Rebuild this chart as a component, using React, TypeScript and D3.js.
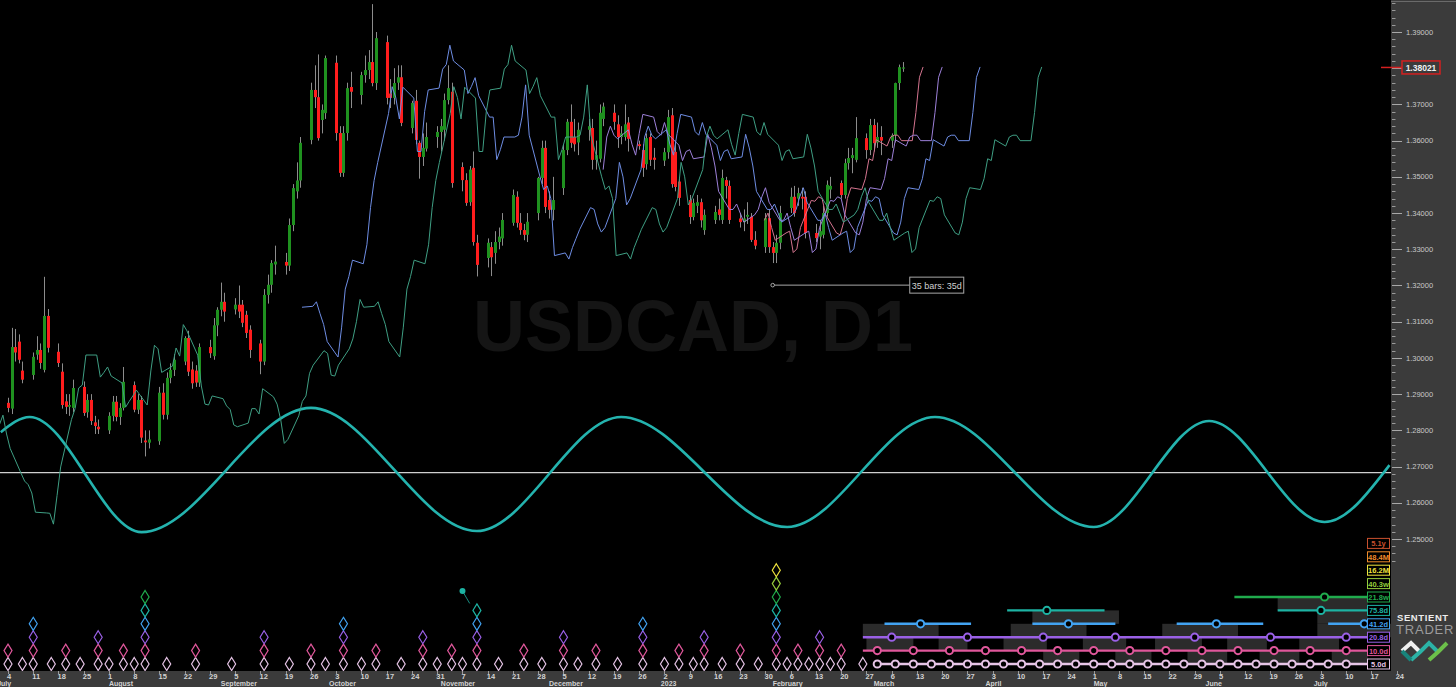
import React from "react";
import * as d3 from "d3";

const WIDTH = 1456;
const HEIGHT = 687;
const AXIS_X = 1391;
const AXIS_Y = 671;

const parse = d3.utcParse("%Y-%m-%d");
const DAY = 864e5;

// date, open, high, low, close
const candles: [string, number, number, number, number][] = [
  ["2022-07-04", 1.2876, 1.289, 1.285, 1.2862],
  ["2022-07-05", 1.286, 1.3083, 1.2845, 1.303],
  ["2022-07-06", 1.303, 1.308, 1.299, 1.3015],
  ["2022-07-07", 1.3045, 1.3065, 1.2985, 1.2995],
  ["2022-07-08", 1.2965, 1.299, 1.293, 1.294],
  ["2022-07-11", 1.2953, 1.3015, 1.294, 1.3003],
  ["2022-07-12", 1.3009, 1.306, 1.2995, 1.3022],
  ["2022-07-13", 1.3022, 1.304, 1.297, 1.2986],
  ["2022-07-14", 1.2967, 1.3224, 1.296, 1.3116],
  ["2022-07-15", 1.3116, 1.3135, 1.3015, 1.3028],
  ["2022-07-18", 1.3017, 1.304, 1.2975, 1.2986],
  ["2022-07-19", 1.2962, 1.2985, 1.286, 1.287],
  ["2022-07-20", 1.288, 1.29, 1.2845, 1.2865],
  ["2022-07-21", 1.2865, 1.29, 1.284, 1.287],
  ["2022-07-22", 1.2862, 1.294, 1.285, 1.2917],
  ["2022-07-25", 1.292, 1.2935, 1.284, 1.2848],
  ["2022-07-26", 1.285, 1.29, 1.2835, 1.2884],
  ["2022-07-27", 1.2884, 1.29, 1.2815, 1.2826],
  ["2022-07-28", 1.2822, 1.284, 1.279, 1.2812],
  ["2022-07-29", 1.281, 1.283, 1.279, 1.2803],
  ["2022-08-01", 1.28, 1.285, 1.279, 1.284],
  ["2022-08-02", 1.284, 1.2895, 1.2825, 1.2879],
  ["2022-08-03", 1.2879, 1.2895, 1.2825, 1.2837],
  ["2022-08-04", 1.2837, 1.2875, 1.2815, 1.2862],
  ["2022-08-05", 1.2862, 1.2975, 1.2855, 1.2934],
  ["2022-08-08", 1.2925, 1.2935, 1.285, 1.2857],
  ["2022-08-09", 1.2857, 1.29, 1.2845, 1.2884],
  ["2022-08-10", 1.2884, 1.2895, 1.2765, 1.278],
  ["2022-08-11", 1.2772, 1.28, 1.2728, 1.2767],
  ["2022-08-12", 1.2766, 1.28, 1.275, 1.2775],
  ["2022-08-15", 1.277, 1.292, 1.276, 1.2904],
  ["2022-08-16", 1.2904, 1.293, 1.283, 1.2843],
  ["2022-08-17", 1.2843, 1.296, 1.283, 1.2945],
  ["2022-08-18", 1.2945, 1.2985, 1.293, 1.2967],
  ["2022-08-19", 1.2967, 1.301, 1.295, 1.2995],
  ["2022-08-22", 1.299, 1.306, 1.298, 1.3055],
  ["2022-08-23", 1.3055, 1.3075, 1.295, 1.2962],
  ["2022-08-24", 1.2968, 1.299, 1.2915, 1.293],
  ["2022-08-25", 1.2965, 1.298, 1.292, 1.2932],
  ["2022-08-26", 1.2932, 1.304, 1.292, 1.303],
  ["2022-08-29", 1.303, 1.305, 1.3, 1.3013],
  ["2022-08-30", 1.3005, 1.311, 1.2995, 1.309],
  ["2022-08-31", 1.309, 1.314, 1.306, 1.3133],
  ["2022-09-01", 1.3133, 1.3208, 1.3115, 1.3155],
  ["2022-09-02", 1.3155, 1.318, 1.31, 1.3128],
  ["2022-09-05", 1.3134, 1.3165, 1.312, 1.3147],
  ["2022-09-06", 1.3147, 1.32, 1.311, 1.3128],
  ["2022-09-07", 1.3147, 1.316, 1.3085, 1.3097],
  ["2022-09-08", 1.3119, 1.313, 1.3055, 1.3069],
  ["2022-09-09", 1.3078, 1.309, 1.3, 1.3022],
  ["2022-09-12", 1.304, 1.305, 1.2955, 1.299],
  ["2022-09-13", 1.299, 1.319, 1.298, 1.3174],
  ["2022-09-14", 1.3174, 1.323, 1.315, 1.3202],
  ["2022-09-15", 1.3202, 1.327, 1.318, 1.3262],
  ["2022-09-16", 1.3258, 1.331, 1.323, 1.3266],
  ["2022-09-19", 1.3265, 1.329, 1.323, 1.3255],
  ["2022-09-20", 1.3255, 1.3385, 1.324, 1.3367],
  ["2022-09-21", 1.3367, 1.348, 1.335, 1.3469],
  ["2022-09-22", 1.346, 1.354, 1.344, 1.349],
  ["2022-09-23", 1.349, 1.361, 1.347, 1.3594],
  ["2022-09-26", 1.3602, 1.376, 1.359, 1.374],
  ["2022-09-27", 1.374, 1.3808, 1.369, 1.372],
  ["2022-09-28", 1.372, 1.3838, 1.36, 1.3607],
  ["2022-09-29", 1.3657, 1.37, 1.362, 1.3685],
  ["2022-09-30", 1.3676, 1.3835, 1.366, 1.3828],
  ["2022-10-03", 1.3815, 1.3835, 1.36, 1.3621],
  ["2022-10-04", 1.3621, 1.364, 1.35, 1.3511],
  ["2022-10-05", 1.3511, 1.364, 1.35, 1.3621],
  ["2022-10-06", 1.3621, 1.376, 1.36, 1.3745],
  ["2022-10-07", 1.3748, 1.379, 1.369, 1.3735],
  ["2022-10-10", 1.3726, 1.379, 1.37, 1.3781],
  ["2022-10-11", 1.3781, 1.3835, 1.376, 1.3795],
  ["2022-10-12", 1.3795, 1.385, 1.377, 1.3817],
  ["2022-10-13", 1.3817, 1.3977, 1.375, 1.3759],
  ["2022-10-14", 1.3759, 1.39, 1.374, 1.3883],
  ["2022-10-17", 1.3872, 1.389, 1.37, 1.3718],
  ["2022-10-18", 1.373, 1.377, 1.369, 1.3718],
  ["2022-10-19", 1.3718, 1.38, 1.37, 1.3759],
  ["2022-10-20", 1.376, 1.3808, 1.374, 1.3775],
  ["2022-10-21", 1.3775, 1.3808, 1.364, 1.3649],
  ["2022-10-24", 1.3635, 1.371, 1.362, 1.3704],
  ["2022-10-25", 1.371, 1.374, 1.359, 1.3602],
  ["2022-10-26", 1.3594, 1.36, 1.3495, 1.3555],
  ["2022-10-27", 1.3555, 1.362, 1.353, 1.358],
  ["2022-10-28", 1.3578, 1.365, 1.357, 1.361],
  ["2022-10-31", 1.361, 1.364, 1.358, 1.3624],
  ["2022-11-01", 1.3624, 1.366, 1.357, 1.364],
  ["2022-11-02", 1.363, 1.373, 1.36, 1.3712],
  ["2022-11-03", 1.3712, 1.3808, 1.37, 1.3745],
  ["2022-11-04", 1.3735, 1.376, 1.347, 1.3483],
  ["2022-11-07", 1.3527, 1.354, 1.346, 1.3491],
  ["2022-11-08", 1.3491, 1.351, 1.342, 1.3428],
  ["2022-11-09", 1.343, 1.353, 1.342, 1.352],
  ["2022-11-10", 1.3525, 1.357, 1.331, 1.332],
  ["2022-11-11", 1.3318, 1.334, 1.3225, 1.3257],
  ["2022-11-14", 1.3276, 1.333, 1.325, 1.3318],
  ["2022-11-15", 1.3306, 1.332, 1.3226, 1.3278],
  ["2022-11-16", 1.329, 1.335, 1.326, 1.332],
  ["2022-11-17", 1.332, 1.336, 1.33, 1.3335],
  ["2022-11-18", 1.333, 1.34, 1.331, 1.3381],
  ["2022-11-21", 1.3373, 1.3465, 1.3365, 1.345],
  ["2022-11-22", 1.3445, 1.346, 1.336, 1.3373],
  ["2022-11-23", 1.3373, 1.34, 1.334, 1.3353],
  ["2022-11-24", 1.3353, 1.337, 1.3325, 1.334],
  ["2022-11-25", 1.334, 1.34, 1.332, 1.3376],
  ["2022-11-28", 1.34, 1.35, 1.338, 1.3497],
  ["2022-11-29", 1.3497, 1.36, 1.348, 1.358],
  ["2022-11-30", 1.358, 1.36, 1.34, 1.3417],
  ["2022-12-01", 1.3436, 1.346, 1.3385, 1.3409],
  ["2022-12-02", 1.3409, 1.35, 1.338, 1.3436],
  ["2022-12-05", 1.3469, 1.359, 1.345, 1.3574],
  ["2022-12-06", 1.3574, 1.366, 1.356, 1.3652],
  ["2022-12-07", 1.3652, 1.37, 1.358, 1.3594],
  ["2022-12-08", 1.361, 1.366, 1.357, 1.359],
  ["2022-12-09", 1.3595, 1.365, 1.356, 1.363],
  ["2022-12-12", 1.363, 1.366, 1.36, 1.364],
  ["2022-12-13", 1.3635, 1.366, 1.352, 1.3547],
  ["2022-12-14", 1.3547, 1.36, 1.352, 1.356],
  ["2022-12-15", 1.355, 1.37, 1.354, 1.3677],
  ["2022-12-16", 1.366, 1.3705, 1.364, 1.3694],
  ["2022-12-19", 1.3677, 1.37, 1.363, 1.3652],
  ["2022-12-20", 1.3645, 1.367, 1.358, 1.361],
  ["2022-12-21", 1.361, 1.364, 1.359, 1.362],
  ["2022-12-22", 1.361, 1.37, 1.36, 1.3645],
  ["2022-12-23", 1.365, 1.3665, 1.357, 1.3605],
  ["2022-12-26", 1.359, 1.36, 1.3575, 1.3585],
  ["2022-12-27", 1.3574, 1.359, 1.35, 1.3525],
  ["2022-12-28", 1.3535, 1.362, 1.352, 1.3607],
  ["2022-12-29", 1.361, 1.362, 1.353, 1.3547],
  ["2022-12-30", 1.3553, 1.358, 1.352, 1.3547],
  ["2023-01-02", 1.3545, 1.358, 1.353, 1.3568],
  ["2023-01-03", 1.3568, 1.3685, 1.355, 1.3665],
  ["2023-01-04", 1.367, 1.369, 1.347, 1.348],
  ["2023-01-05", 1.3569, 1.36, 1.346, 1.3472],
  ["2023-01-06", 1.3487, 1.35, 1.342, 1.3442],
  ["2023-01-09", 1.3436, 1.345, 1.337, 1.3389],
  ["2023-01-10", 1.3389, 1.344, 1.338, 1.3428],
  ["2023-01-11", 1.342, 1.345, 1.34, 1.343],
  ["2023-01-12", 1.343, 1.344, 1.336, 1.338],
  ["2023-01-13", 1.3353, 1.341, 1.334, 1.3395],
  ["2023-01-16", 1.3381, 1.342, 1.337, 1.3403],
  ["2023-01-17", 1.341, 1.344, 1.338, 1.3395],
  ["2023-01-18", 1.3381, 1.352, 1.337, 1.3497],
  ["2023-01-19", 1.3491, 1.35, 1.344, 1.3475],
  ["2023-01-20", 1.3475, 1.349, 1.337, 1.3381],
  ["2023-01-23", 1.3385, 1.34, 1.336, 1.3375],
  ["2023-01-24", 1.3375, 1.341, 1.335, 1.3385],
  ["2023-01-25", 1.339, 1.343, 1.337, 1.3395],
  ["2023-01-26", 1.339, 1.34, 1.332, 1.3326],
  ["2023-01-27", 1.3326, 1.335, 1.33, 1.331],
  ["2023-01-30", 1.3306, 1.34, 1.329, 1.3386],
  ["2023-01-31", 1.3386, 1.341, 1.329, 1.3306],
  ["2023-02-01", 1.3306, 1.332, 1.3262, 1.329],
  ["2023-02-02", 1.329, 1.334, 1.3262, 1.3318],
  ["2023-02-03", 1.3318, 1.342, 1.33, 1.34],
  ["2023-02-06", 1.3414, 1.347, 1.34, 1.3445],
  ["2023-02-07", 1.3445, 1.3475, 1.339, 1.34],
  ["2023-02-08", 1.344, 1.347, 1.342, 1.3455],
  ["2023-02-09", 1.3445, 1.347, 1.341, 1.344],
  ["2023-02-10", 1.3445, 1.346, 1.333, 1.3345],
  ["2023-02-13", 1.3345, 1.337, 1.332, 1.3331],
  ["2023-02-14", 1.3335, 1.338, 1.33, 1.335],
  ["2023-02-15", 1.334, 1.342, 1.333, 1.34],
  ["2023-02-16", 1.34, 1.349, 1.339, 1.3478],
  ["2023-02-17", 1.3465, 1.35, 1.344, 1.3475],
  ["2023-02-20", 1.3483, 1.349, 1.344, 1.345],
  ["2023-02-21", 1.345, 1.355, 1.344, 1.3538],
  ["2023-02-22", 1.3538, 1.358, 1.352, 1.3552],
  ["2023-02-23", 1.3552, 1.358, 1.351, 1.356],
  ["2023-02-24", 1.3547, 1.3665, 1.354, 1.3607],
  ["2023-02-27", 1.3607, 1.362, 1.355, 1.3574],
  ["2023-02-28", 1.3574, 1.366, 1.356, 1.3643],
  ["2023-03-01", 1.3643, 1.366, 1.357, 1.3593],
  ["2023-03-02", 1.3595, 1.365, 1.358, 1.361],
  ["2023-03-03", 1.361, 1.364, 1.356, 1.36],
  ["2023-03-06", 1.36, 1.362, 1.358, 1.3615],
  ["2023-03-07", 1.3615, 1.376, 1.3595, 1.3759],
  ["2023-03-08", 1.3759, 1.381, 1.374, 1.3803],
  ["2023-03-09", 1.38, 1.3817, 1.379, 1.38021],
];

// median prices before the visible window (only seen through the 75.8d FLD)
const priorMedians: [string, number][] = [
  ["2022-05-23", 1.283], ["2022-05-24", 1.2815], ["2022-05-25", 1.2842], ["2022-05-26", 1.279],
  ["2022-05-27", 1.275], ["2022-05-30", 1.2682], ["2022-05-31", 1.266], ["2022-06-01", 1.265],
  ["2022-06-02", 1.2627], ["2022-06-03", 1.2574], ["2022-06-06", 1.2572], ["2022-06-07", 1.2571],
  ["2022-06-08", 1.2541], ["2022-06-09", 1.262], ["2022-06-10", 1.2699], ["2022-06-13", 1.283],
  ["2022-06-14", 1.286], ["2022-06-15", 1.2917], ["2022-06-16", 1.2925], ["2022-06-17", 1.3008],
  ["2022-06-20", 1.3008], ["2022-06-21", 1.2947], ["2022-06-22", 1.296], ["2022-06-23", 1.2975],
  ["2022-06-24", 1.295], ["2022-06-27", 1.2931], ["2022-06-28", 1.2864], ["2022-06-29", 1.288],
  ["2022-06-30", 1.2895], ["2022-07-01", 1.2911],
];

const fldShiftDays = [5.7, 11.0, 21.5, 38.6];
const fldStart = ["2023-01-24", "2022-12-05", "2022-09-02", "2022-05-23"];
const fldColors = ["#d4748f", "#9d80d9", "#6e8de3", "#3f9f84"];

const priceTicks = [1.25, 1.26, 1.27, 1.28, 1.29, 1.3, 1.31, 1.32, 1.33, 1.34, 1.35, 1.36, 1.37, 1.38, 1.39];
const lastPrice = 1.38021;

// composite cycle wave: turning points
const waveDates = ["2022-07-02", "2022-07-10", "2022-08-10", "2022-09-26", "2022-11-11", "2022-12-21", "2023-02-05", "2023-03-18", "2023-05-01", "2023-06-02", "2023-07-04", "2023-07-22"];
const waveValues = [1.2795, 1.2837, 1.2519, 1.2862, 1.2522, 1.2837, 1.2533, 1.2837, 1.2533, 1.2826, 1.2547, 1.2704];
const waveBaseline = 1.26835;

const cycleNames = ["5.0d", "10.0d", "20.8d", "41.2d", "75.8d", "21.8w", "40.3w", "16.2M", "48.4M", "5.1y"];
const cycleColors = ["#e6c4e6", "#e0579b", "#9a60e6", "#42a3f2", "#1db3a3", "#20ab4d", "#95cd3b", "#efe33d", "#ee8a2a", "#c9502e"];

const diamondDates = ["2022-07-04", "2022-07-08", "2022-07-11", "2022-07-16", "2022-07-20", "2022-07-24", "2022-07-29", "2022-08-01", "2022-08-05", "2022-08-08", "2022-08-11", "2022-08-17", "2022-08-25", "2022-09-04", "2022-09-13", "2022-09-20", "2022-09-26", "2022-09-30", "2022-10-05", "2022-10-10", "2022-10-14", "2022-10-21", "2022-10-27", "2022-10-31", "2022-11-04", "2022-11-07", "2022-11-11", "2022-11-17", "2022-11-24", "2022-11-29", "2022-12-05", "2022-12-09", "2022-12-14", "2022-12-20", "2022-12-27", "2023-01-02", "2023-01-06", "2023-01-10", "2023-01-13", "2023-01-18", "2023-01-23", "2023-01-28", "2023-02-02", "2023-02-05", "2023-02-08", "2023-02-11", "2023-02-14", "2023-02-17", "2023-02-20", "2023-02-26"];
const diamondLevels = [1, 0, 3, 0, 1, 0, 2, 0, 1, 0, 5, 0, 1, 0, 2, 0, 1, 0, 3, 0, 1, 0, 2, 0, 1, 0, 4, 0, 1, 0, 2, 0, 1, 0, 3, 0, 1, 0, 2, 0, 1, 0, 7, 0, 1, 0, 2, 0, 1, 0];

// projected troughs (circles) per cycle row
const projCircles: string[][] = [
  ["2023-03-02", "2023-03-07", "2023-03-12", "2023-03-17", "2023-03-22", "2023-03-27", "2023-04-01", "2023-04-06", "2023-04-11", "2023-04-16", "2023-04-21", "2023-04-26", "2023-05-01", "2023-05-06", "2023-05-11", "2023-05-16", "2023-05-21", "2023-05-26", "2023-05-31", "2023-06-05", "2023-06-10", "2023-06-15", "2023-06-20", "2023-06-25", "2023-06-30", "2023-07-05", "2023-07-10"],
  ["2023-03-02", "2023-03-12", "2023-03-22", "2023-04-01", "2023-04-11", "2023-04-21", "2023-05-01", "2023-05-11", "2023-05-21", "2023-05-31", "2023-06-10", "2023-06-20", "2023-06-30", "2023-07-10"],
  ["2023-03-06", "2023-03-27", "2023-04-17", "2023-05-07", "2023-05-29", "2023-06-19", "2023-07-10"],
  ["2023-03-14", "2023-04-24", "2023-06-04", "2023-07-15"],
  ["2023-04-18", "2023-07-03"],
  ["2023-07-04"],
];
const projLines: [string, string][][] = [
  [["2023-03-01", "2023-07-16"]],
  [["2023-02-26", "2023-07-16"]],
  [["2023-02-26", "2023-07-16"]],
  [["2023-03-04", "2023-03-28"], ["2023-04-14", "2023-05-07"], ["2023-05-24", "2023-06-17"], ["2023-07-05", "2023-07-16"]],
  [["2023-04-07", "2023-05-04"], ["2023-06-21", "2023-07-16"]],
  [["2023-06-09", "2023-07-16"]],
];
// grey trough windows: [row, start, end]
const projBoxes: [number, string, string][] = [
  [3, "2023-02-26", "2023-03-19"], [3, "2023-04-08", "2023-04-29"], [3, "2023-05-20", "2023-06-10"], [3, "2023-07-02", "2023-07-24"],
  [4, "2023-04-14", "2023-05-08"], [4, "2023-07-02", "2023-07-16"], [5, "2023-06-21", "2023-07-16"],
  [2, "2023-02-27", "2023-03-12"], [2, "2023-03-19", "2023-03-27"], [2, "2023-04-06", "2023-04-18"],
  [2, "2023-04-28", "2023-05-10"], [2, "2023-05-18", "2023-05-31"], [2, "2023-06-07", "2023-06-18"], [2, "2023-06-27", "2023-07-08"],
  [1, "2023-04-17", "2023-04-27"], [1, "2023-05-07", "2023-05-17"], [1, "2023-05-27", "2023-06-07"],
  [1, "2023-06-16", "2023-06-27"], [1, "2023-07-06", "2023-07-16"],
];

const measure = { from: "2023-02-01", to: "2023-03-11", price: 1.3201, label: "35 bars: 35d" };

const xScale = d3.scaleUtc()
  .domain([parse("2022-07-04")!, parse("2023-07-24")!])
  .range([8, 8 + 385 * 3.607]);
const yScale = d3.scaleLinear().domain([1.25, 1.39]).range([539, 32]);
const X = (s: string) => xScale(parse(s)!);
const rowY = (i: number) => 664 - i * 13.4;

const FONT = "'Liberation Sans', Arial, sans-serif";

export default function App() {
  const allMed = [
    ...priorMedians.map(([d, v]) => ({ t: parse(d)!, v })),
    ...candles.map((c) => ({ t: parse(c[0])!, v: (c[2] + c[3]) / 2 })),
  ];
  const line = d3.line<[number, number]>();
  const fldPaths = fldShiftDays.map((s, k) => {
    const start = parse(fldStart[k])!;
    const pts = allMed
      .filter((p) => p.t >= start)
      .map((p) => [xScale(new Date(+p.t + s * DAY)), yScale(p.v)] as [number, number]);
    return line(pts) || "";
  });
  const wavePath =
    d3.line<[number, number]>().curve(d3.curveMonotoneX)(
      waveDates.map((d, i) => [X(d), yScale(waveValues[i])] as [number, number])
    ) || "";

  const mondays = d3.utcMonday.range(parse("2022-07-04")!, parse("2023-07-25")!);
  const months = d3.utcMonth.range(parse("2022-07-01")!, parse("2023-07-02")!);
  const monthFmt = (d: Date) => (d.getUTCMonth() === 0 ? d3.utcFormat("%Y")(d) : d3.utcFormat("%B")(d));

  const minorTicks = d3.range(1244, 1400, 2).map((v) => v / 1000);

  return (
    <svg width={WIDTH} height={HEIGHT} style={{ display: "block", position: "absolute", left: 0, top: 0, background: "#000" }}>
      <defs>
        <clipPath id="plot">
          <rect x={0} y={0} width={AXIS_X} height={AXIS_Y} />
        </clipPath>
      </defs>
      <rect x={0} y={0} width={WIDTH} height={HEIGHT} fill="#000" />
      <g clipPath="url(#plot)">
        {/* watermark */}
        <text x={693} y={351} textAnchor="middle" fontFamily={FONT} fontWeight="bold" fontSize={72} fill="#151515">
          USDCAD, D1
        </text>
        {/* baseline + wave */}
        <line x1={0} x2={AXIS_X} y1={yScale(waveBaseline)} y2={yScale(waveBaseline)} stroke="#cfcfcf" strokeWidth={1.3} />
        <path d={wavePath} fill="none" stroke="#24b3ae" strokeWidth={2.6} />
        {/* candles */}
        {candles.map(([d, o, h, l, c]) => {
          const cx = Math.round(X(d)) + 0.5;
          const up = c >= o;
          const top = yScale(Math.max(o, c));
          const bot = yScale(Math.min(o, c));
          return (
            <g key={d}>
              <line x1={cx} x2={cx} y1={yScale(h)} y2={yScale(l)} stroke="#8c8c8c" strokeWidth={1} />
              <rect x={cx - 1.5} y={top} width={3} height={Math.max(1.2, bot - top)} fill={up ? "#1f911f" : "#ff1d1d"} />
            </g>
          );
        })}
        {/* FLDs */}
        {fldPaths.map((p, k) => (
          <path key={k} d={p} fill="none" stroke={fldColors[k]} strokeWidth={1} />
        ))}
        {/* measurement */}
        <line x1={X(measure.from)} x2={X(measure.to)} y1={yScale(measure.price)} y2={yScale(measure.price)} stroke="#a8a8a8" strokeWidth={1} />
        <circle cx={X(measure.from)} cy={yScale(measure.price)} r={1.8} fill="#000" stroke="#a8a8a8" strokeWidth={1} />
        <rect x={X(measure.to)} y={yScale(measure.price) - 8} width={54} height={16} fill="#000" stroke="#a8a8a8" strokeWidth={1} />
        <text x={X(measure.to) + 27} y={yScale(measure.price) + 3.5} textAnchor="middle" fontFamily={FONT} fontSize={9} fill="#d0d0d0">
          {measure.label}
        </text>

        {/* projection boxes */}
        {projBoxes.map(([r, a, b], i) => (
          <rect key={i} x={X(a)} y={rowY(r)} width={X(b) - X(a)} height={13.4} fill="#2b2b2b" />
        ))}
        {/* projection lines and circles */}
        {projLines.map((segs, r) =>
          segs.map(([a, b], j) => (
            <line key={`${r}-${j}`} x1={X(a)} x2={X(b)} y1={rowY(r)} y2={rowY(r)} stroke={cycleColors[r]} strokeWidth={2.4} />
          ))
        )}
        {projCircles.map((cs, r) =>
          cs.map((d) => (
            <circle key={`${r}-${d}`} cx={X(d)} cy={rowY(r)} r={3.6} fill="#000" stroke={cycleColors[r]} strokeWidth={2} />
          ))
        )}

        {/* trough diamonds */}
        {diamondDates.map((d, i) =>
          d3.range(diamondLevels[i] + 1).map((lv) => {
            const cx = X(d);
            const cy = rowY(lv);
            return (
              <path
                key={`${d}-${lv}`}
                d={`M${cx},${cy - 6.5}L${cx + 4},${cy}L${cx},${cy + 6.5}L${cx - 4},${cy}Z`}
                fill="none"
                stroke={cycleColors[lv]}
                strokeWidth={1.2}
              />
            );
          })
        )}
        {/* expected 75.8d trough marker */}
        <line x1={X("2022-11-07")} y1={rowY(5) - 6} x2={X("2022-11-09")} y2={rowY(4) - 7} stroke="#1db3a3" strokeWidth={0.8} />
        <circle cx={X("2022-11-07")} cy={rowY(5) - 6} r={3} fill="#1db3a3" />
      </g>

      {/* cycle labels */}
      {cycleNames.map((n, i) => (
        <g key={n}>
          <rect x={1367.5} y={rowY(i) - 5} width={22} height={10} fill="#000" stroke={cycleColors[i]} strokeWidth={1} />
          <text x={1378.5} y={rowY(i) + 3} textAnchor="middle" fontFamily={FONT} fontWeight="bold" fontSize={7.5} fill={cycleColors[i]}>
            {n}
          </text>
        </g>
      ))}

      {/* right axis panel */}
      <rect x={AXIS_X} y={0} width={WIDTH - AXIS_X} height={HEIGHT} fill="#3b3b3b" />
      <line x1={AXIS_X} x2={WIDTH} y1={1.5} y2={1.5} stroke="#6a6a6a" />
      {minorTicks.map((v) => (
        <line key={v} x1={AXIS_X + 1} x2={AXIS_X + 4.5} y1={Math.round(yScale(v)) + 0.5} y2={Math.round(yScale(v)) + 0.5} stroke="#9a9a9a" />
      ))}
      {priceTicks.map((v) => (
        <g key={v}>
          <line x1={AXIS_X + 1} x2={AXIS_X + 11} y1={Math.round(yScale(v)) + 0.5} y2={Math.round(yScale(v)) + 0.5} stroke="#a8a8a8" />
          {Math.abs(yScale(v) - yScale(lastPrice)) > 8 && (
            <text x={1406} y={yScale(v) + 2.6} fontFamily={FONT} fontSize={7.5} fill="#c9c9c9">
              {v.toFixed(5)}
            </text>
          )}
        </g>
      ))}
      {/* last price */}
      <line x1={1381} x2={1402} y1={yScale(lastPrice)} y2={yScale(lastPrice)} stroke="#d42020" strokeWidth={1.5} />
      <rect x={1402} y={yScale(lastPrice) - 6.5} width={38} height={13} fill="#3b3b3b" stroke="#d42020" strokeWidth={1.5} />
      <text x={1421} y={yScale(lastPrice) + 3.3} textAnchor="middle" fontFamily={FONT} fontWeight="bold" fontSize={8.5} fill="#f2f2f2">
        {lastPrice.toFixed(5)}
      </text>

      {/* logo */}
      <text x={1397} y={621} fontFamily={FONT} fontWeight="bold" fontSize={9.5} letterSpacing={0.6} fill="#ececec">
        SENTIENT
      </text>
      <text x={1396} y={634} fontFamily={FONT} fontSize={13} letterSpacing={0.8} fill="#9c9c9c">
        TRADER
      </text>
      <polyline points="1402,651 1411,643 1420,652" fill="none" stroke="#f0f0f0" strokeWidth={4} />
      <polyline points="1411,660 1420,652 1429,643 1438,652" fill="none" stroke="#2bb3a6" strokeWidth={4} />
      <polyline points="1429,660 1438,652 1447,643" fill="none" stroke="#6cc04a" strokeWidth={4} />
      <polyline points="1402,651 1411,660" fill="none" stroke="#18857c" strokeWidth={4} />

      {/* bottom axis panel */}
      <rect x={0} y={AXIS_Y} width={WIDTH} height={HEIGHT - AXIS_Y} fill="#3b3b3b" />
      {mondays.map((d) => (
        <g key={+d}>
          <line x1={Math.round(xScale(d)) + 0.5} x2={Math.round(xScale(d)) + 0.5} y1={AXIS_Y} y2={AXIS_Y + 3} stroke="#9a9a9a" />
          <text x={xScale(d) - 1} y={679} fontFamily={FONT} fontWeight="bold" fontSize={7.5} fill="#d2d2d2">
            {d.getUTCDate()}
          </text>
        </g>
      ))}
      {months.map((d) => (
        <text key={+d} x={xScale(d)} y={685.5} fontFamily={FONT} fontWeight="bold" fontSize={7} fill="#d2d2d2">
          {monthFmt(d)}
        </text>
      ))}
    </svg>
  );
}
